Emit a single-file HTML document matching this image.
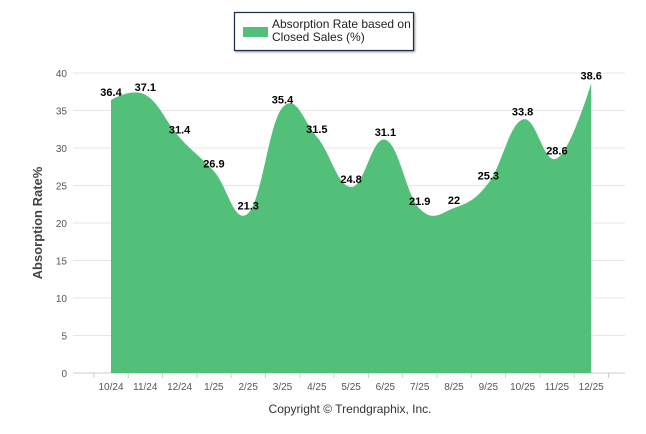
<!DOCTYPE html>
<html><head><meta charset="utf-8"><style>
body{margin:0;background:#fff;width:646px;height:434px;overflow:hidden;font-family:"Liberation Sans",Arial,sans-serif}
</style></head><body>
<svg id="c" width="646" height="434" style="position:absolute;left:0;top:0">
<g>
<rect x="234.5" y="12.5" width="179" height="38" fill="#fff" stroke="#1f2d4d" stroke-width="1.2" style="filter:drop-shadow(1px 1px 1px #999)"/>
<rect x="243" y="27" width="25" height="10" fill="#53c07a"/>
<text x="272" y="28" font-size="12" fill="#222">Absorption Rate based on</text>
<text x="272" y="41" font-size="12" fill="#222">Closed Sales (%)</text>
</g>
<text transform="translate(42,223) rotate(-90)" text-anchor="middle" font-size="13" font-weight="bold" fill="#444">Absorption Rate%</text>
<text x="350" y="413" text-anchor="middle" font-size="12" fill="#333">Copyright © Trendgraphix, Inc.</text>
<g id="grid"></g><g id="area"></g><g id="labels"></g>
</svg>
<script>
const categories=["10/24","11/24","12/24","1/25","2/25","3/25","4/25","5/25","6/25","7/25","8/25","9/25","10/25","11/25","12/25"];
const values=[36.4,37.1,31.4,26.9,21.3,35.4,31.5,24.8,31.1,21.9,22,25.3,33.8,28.6,38.6];
const yTicks=[0,5,10,15,20,25,30,35,40];
const NS="http://www.w3.org/2000/svg";
const X=i=>111+i*34.3, Y=v=>373-v*7.5;
function mk(t,a,p){const e=document.createElementNS(NS,t);for(const k in a)e.setAttribute(k,a[k]);p.appendChild(e);return e;}
const grid=document.getElementById('grid');
yTicks.forEach(t=>{
 const l=mk('line',{x1:73,x2:625,y1:Y(t),y2:Y(t),stroke:t===0?'#ccc':'#e6e6e6'},grid);
 
 
 const tx=mk('text',{x:67,y:Y(t)+4,'text-anchor':'end','font-size':10,fill:'#555'},grid);tx.textContent=t;
 
 
});
for(let i=0;i<=categories.length;i++){mk('line',{x1:X(i)-17,x2:X(i)-17,y1:373,y2:378,stroke:'#ccc'},grid);}
categories.forEach((c,i)=>{
 const t=mk('text',{x:X(i),y:390,'text-anchor':'middle','font-size':10,fill:'#555'},grid);t.textContent=c;
 
 
});
const pts=values.map((v,i)=>[X(i),Y(v)]);
function ctrl(i){
 const s=1.5,d=s+1,p=pts[i],a=pts[i-1],b=pts[i+1];
 let lx=(s*p[0]+a[0])/d,ly=(s*p[1]+a[1])/d,rx=(s*p[0]+b[0])/d,ry=(s*p[1]+b[1])/d;
 if(rx!==lx){const k=(ry-ly)/(rx-lx);ly+=p[1]-(ly+k*(p[0]-lx));ry+=p[1]-(ry+k*(p[0]-rx));}
 return [[lx,ly],[rx,ry]];
}
const C=pts.map((p,i)=>(i>0&&i<pts.length-1)?ctrl(i):[p,p]);
let d=`M${pts[0][0]},373 L${pts[0][0]},${pts[0][1]}`;
for(let i=1;i<pts.length;i++){d+=` C${C[i-1][1][0]},${C[i-1][1][1]} ${C[i][0][0]},${C[i][0][1]} ${pts[i][0]},${pts[i][1]}`;}
d+=` L${pts[pts.length-1][0]},373 Z`;
const ar=mk('path',{d:d,fill:'#53c07a'},document.getElementById('area'));


const lg=document.getElementById('labels');
values.forEach((v,i)=>{
 const t=mk('text',{x:X(i),y:Y(v)-4,'text-anchor':'middle','font-size':11,'font-weight':'bold',fill:'#000'},lg);t.textContent=v;
 
 
});
</script>
</body></html>
